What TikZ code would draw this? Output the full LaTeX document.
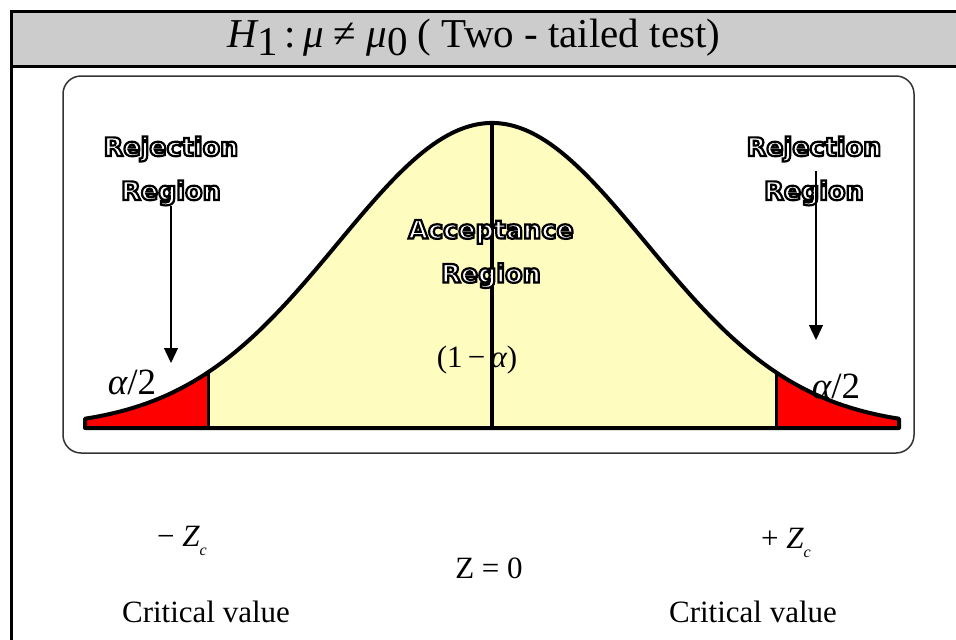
\documentclass[tikz,border=0pt]{standalone}
\usepackage{fontspec}
\setmainfont{Liberation Serif}
\newfontfamily\hollowfont{DejaVu Sans}
\usetikzlibrary{arrows.meta}

\newcommand{\lowsub}[1]{\raisebox{-0.4ex}{#1}}
\newcommand{\smallsub}[1]{\raisebox{-0.6ex}{\fontsize{16}{16}\selectfont\itshape #1}}
% white letters with a black rim (fill and stroke render mode)
\newcommand{\hollowtext}[1]{\special{pdf:literal direct 2 Tr 2.2 w 1 g 0 G}#1\special{pdf:literal direct 0 Tr 0 g 0 G}}

\begin{document}
\begin{tikzpicture}[
    x=1pt, y=-1pt,
    frame/.style={draw=black, line width=3pt},
    panel/.style={draw=black!80, line width=1.5pt, rounded corners=18pt},
    curve/.style={draw=black, line width=4pt, line join=round},
    cut/.style={draw=black, line width=3pt},
    pointer/.style={draw=black, line width=1.3pt, -{Triangle[length=15pt, width=14pt]}},
    hollow/.style={font=\hollowfont\bfseries\fontsize{25.5}{44}\selectfont, align=center, inner sep=0pt},
    label/.style={font=\fontsize{31}{36}\selectfont, inner sep=0pt},
    greek/.style={font=\fontsize{31}{34}\selectfont, inner sep=0pt},
    declare function={bell(\t)=\base-\peak*exp(-0.5*(\t/\sig)^2);},
]

\def\cx{492}
\def\base{428}
\def\peak{305}
\def\sig{154}
\def\crit{284}
\def\tail{407}

\useasboundingbox (0,0) rectangle (956,640);

% Header band and frame
\fill[gray!40] (11,11) rectangle (962,66);
\draw[frame] (962,11) -- (11,11) -- (11,646);
\draw[frame] (11,66) -- (962,66);
\node[font=\fontsize{41}{44}\selectfont] (title) at (474,38)
    {\itshape H\upshape\lowsub{1}\,:\,\itshape μ\upshape\ ≠\ \itshape μ\upshape\lowsub{0}\ ( Two - tailed test)};

% Panel
\draw[panel] (63,76) rectangle (914,453);

% Areas under the curve
\fill[yellow!25] (\cx-\crit,\base) -- plot[domain=-\crit:\crit, samples=80] ({\cx+\x},{bell(\x)}) -- (\cx+\crit,\base) -- cycle;
\fill[red] (\cx-\tail,\base) -- plot[domain=-\tail:-\crit, samples=40] ({\cx+\x},{bell(\x)}) -- (\cx-\crit,\base) -- cycle;
\fill[red] (\cx+\crit,\base) -- plot[domain=\crit:\tail, samples=40] ({\cx+\x},{bell(\x)}) -- (\cx+\tail,\base) -- cycle;

% Cut lines
\draw[cut] (\cx-\crit,\base) -- (\cx-\crit,{bell(-\crit)});
\draw[cut] (\cx+\crit,\base) -- (\cx+\crit,{bell(\crit)});
\draw[curve] (\cx,\base) -- (\cx,{bell(0)});

% Curve outline
\draw[curve] (\cx-\tail,\base) -- plot[domain=-\tail:\tail, samples=160] ({\cx+\x},{bell(\x)}) -- (\cx+\tail,\base) -- cycle;

% Region labels
\node[hollow] (rejL) at (171,171) {\hollowtext{Rejection}\\ \hollowtext{Region}};
\node[hollow] (rejR) at (814,171) {\hollowtext{Rejection}\\ \hollowtext{Region}};
\node[hollow] (acc) at (491,254) {\hollowtext{Acceptance}\\ \hollowtext{Region}};

\coordinate (tipL) at (171,363);
\coordinate (tipR) at (816,340);
\draw[pointer] (rejL.south) -- (tipL);
\draw[pointer] (rejR.center) ++(2,0) -- (tipR);

\node[greek, font=\fontsize{37}{40}\selectfont] (alphaL) at (132,382) {\itshape α\upshape/2};
\node[greek, font=\fontsize{37}{40}\selectfont] (alphaR) at (836,386) {\itshape α\upshape/2};
\node[greek] (conf) at (477,360) {(1\,−\,\itshape α\upshape)};

% Axis values
\node[label] (zneg) at (182,541) {− \itshape Z\smallsub{c}};
\node[label] (zero) at (489,568) {Z = 0};
\node[label] (zpos) at (786,543) {+ \itshape Z\smallsub{c}};
\node[label] (critL) at (206,612) {Critical value};
\node[label] (critR) at (753,612) {Critical value};

\end{tikzpicture}
\end{document}
